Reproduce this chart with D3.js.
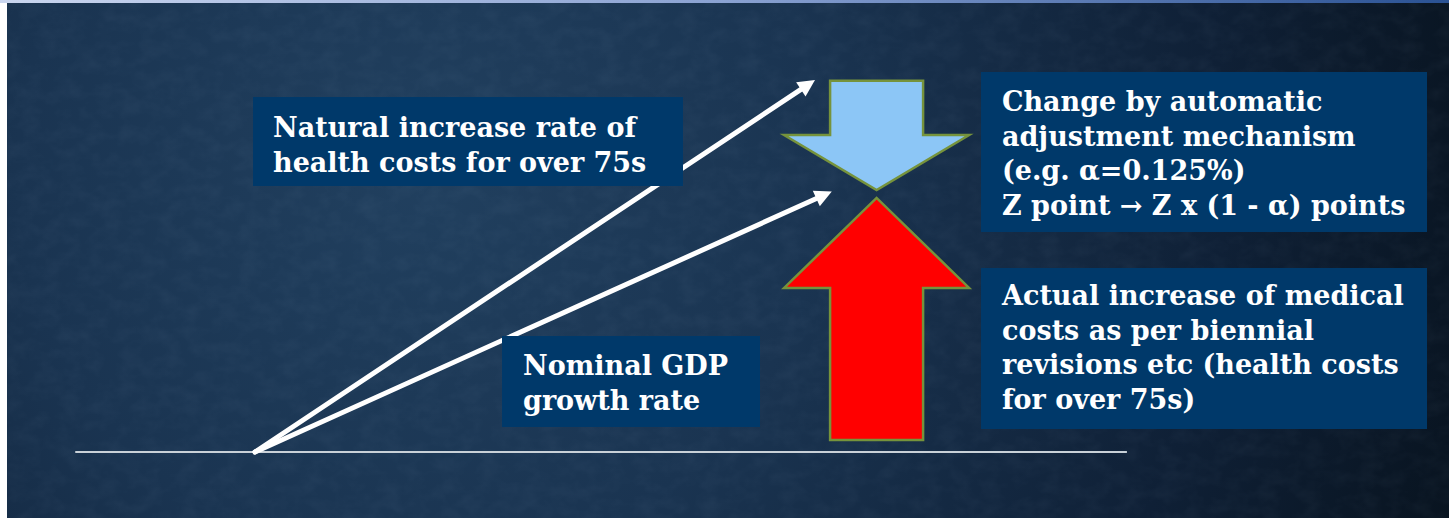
<!DOCTYPE html>
<html>
<head>
<meta charset="utf-8">
<script src="https://cdn.jsdelivr.net/npm/d3@7"></script>
<style>
  html, body { margin: 0; padding: 0; background: #ffffff; }
  svg { display: block; }
</style>
</head>
<body>
<svg id="chart" width="1449" height="518"></svg>
<script>
// Growth rates, on a 0–100 index (0 = baseline, 100 = natural increase of over-75s costs)
const growthLines = [
  { key: "natural", x0: 0, y0: 0, x1: 100, y1: 100 },
  { key: "gdp",     x0: 0, y0: 0, x1: 103, y1: 70 }
];
// Vertical block arrows: from value -> to value, at a horizontal index position
const blockArrows = [
  { key: "adjustment", from: 99.8, to: 70.4, at: 111, fill: "#8cc6f6", headLen: 55 },
  { key: "actual",     from: 3.2,  to: 68.3, at: 111, fill: "#ff0000", headLen: 90 }
];
const baselineExtent = [-32.1, 155.7];

// Text panels
const panels = [
  { key: "natural", box: [253, 97, 430, 89], text: [273, 137],
    lines: ["Natural increase rate of", "health costs for over 75s"] },
  { key: "adjust", box: [981, 72, 446, 160], text: [1002, 111],
    lines: ["Change by automatic", "adjustment mechanism", "(e.g. α=0.125%)", "Z point → Z x (1 - α) points"] },
  { key: "actual", box: [981, 268, 446, 161], text: [1002, 305],
    lines: ["Actual increase of medical", "costs as per biennial", "revisions etc (health costs", "for over 75s)"] },
  { key: "gdp", box: [502, 336, 258, 91], text: [523, 375],
    lines: ["Nominal GDP", "growth rate"] }
];

const W = 1449, H = 518;
const svg = d3.select("#chart");

const x = d3.scaleLinear().domain([0, 100]).range([255, 815]);
const y = d3.scaleLinear().domain([0, 100]).range([452, 80]);

const defs = svg.append("defs");

// Background: dark navy, lighter toward the upper left
const bg = defs.append("radialGradient").attr("id", "bgGrad")
  .attr("gradientUnits", "userSpaceOnUse")
  .attr("cx", 420).attr("cy", 170).attr("r", 1150);
bg.append("stop").attr("offset", 0).attr("stop-color", "#21405f");
bg.append("stop").attr("offset", 0.35).attr("stop-color", "#1a3451");
bg.append("stop").attr("offset", 0.7).attr("stop-color", "#0f2036");
bg.append("stop").attr("offset", 1).attr("stop-color", "#07111b");

const topBar = defs.append("linearGradient").attr("id", "topGrad");
topBar.append("stop").attr("offset", 0).attr("stop-color", "#cad6ef");
topBar.append("stop").attr("offset", 0.5).attr("stop-color", "#8aa2d2");
topBar.append("stop").attr("offset", 1).attr("stop-color", "#2a5294");

// Fine grain over the background
const grain = defs.append("filter").attr("id", "grain")
  .attr("x", 0).attr("y", 0).attr("width", "100%").attr("height", "100%");
grain.append("feTurbulence").attr("type", "fractalNoise")
  .attr("baseFrequency", "0.05 0.07").attr("numOctaves", 3).attr("seed", 7).attr("result", "n");
grain.append("feColorMatrix").attr("type", "matrix")
  .attr("values", "0 0 0 0 0.55  0 0 0 0 0.7  0 0 0 0 0.9  0 0 0 0.5 -0.18");

svg.append("rect").attr("width", W).attr("height", H).attr("fill", "#ffffff");
svg.append("rect").attr("x", 7).attr("y", 0).attr("width", W - 7).attr("height", H).attr("fill", "url(#bgGrad)");
svg.append("rect").attr("x", 7).attr("y", 0).attr("width", W - 7).attr("height", H)
  .attr("filter", "url(#grain)").attr("opacity", 0.15);
svg.append("rect").attr("x", 0).attr("y", 0).attr("width", W).attr("height", 3).attr("fill", "url(#topGrad)");

// Baseline
svg.append("line")
  .attr("x1", x(baselineExtent[0])).attr("x2", x(baselineExtent[1]))
  .attr("y1", y(0)).attr("y2", y(0))
  .attr("stroke", "#c9d1d8").attr("stroke-width", 2);

// Growth-rate arrows
const headL = 17, headHalf = 8.5;
const gl = svg.append("g").selectAll("g").data(growthLines).join("g");
gl.each(function(d) {
  const g = d3.select(this);
  const ax = x(d.x0), ay = y(d.y0), bx = x(d.x1), by = y(d.y1);
  const len = Math.hypot(bx - ax, by - ay);
  const ux = (bx - ax) / len, uy = (by - ay) / len;
  const px = -uy, py = ux;
  const hx = bx - ux * headL, hy = by - uy * headL;
  g.append("line")
    .attr("x1", ax).attr("y1", ay).attr("x2", hx + ux * 2).attr("y2", hy + uy * 2)
    .attr("stroke", "#ffffff").attr("stroke-width", 5).attr("stroke-linecap", "round");
  g.append("path")
    .attr("d", d3.line()([[bx, by], [hx + px * headHalf, hy + py * headHalf], [hx - px * headHalf, hy - py * headHalf]]) + "Z")
    .attr("fill", "#ffffff");
});

// Block arrows
const shaftHalf = 46.5, headHalfW = 92.5;
svg.append("g").selectAll("path").data(blockArrows).join("path")
  .attr("d", d => {
    const cx = x(d.at);
    const y0 = y(d.from), y1 = y(d.to);
    const dir = y1 > y0 ? 1 : -1;
    const sh = y1 - dir * d.headLen;
    return d3.line()([
      [cx - shaftHalf, y0], [cx + shaftHalf, y0], [cx + shaftHalf, sh],
      [cx + headHalfW, sh], [cx, y1], [cx - headHalfW, sh], [cx - shaftHalf, sh]
    ]) + "Z";
  })
  .attr("fill", d => d.fill)
  .attr("stroke", "#76933c").attr("stroke-width", 2.5).attr("stroke-linejoin", "miter");

// Text panels
const pg = svg.append("g").selectAll("g").data(panels).join("g");
pg.append("rect")
  .attr("x", d => d.box[0]).attr("y", d => d.box[1])
  .attr("width", d => d.box[2]).attr("height", d => d.box[3])
  .attr("fill", "#00396a");
pg.append("text")
  .attr("font-family", "'DejaVu Serif', serif")
  .attr("font-weight", "bold")
  .attr("font-size", 27)
  .attr("fill", "#ffffff")
  .selectAll("tspan").data(d => d.lines.map((t, i) => ({ t, i, p: d }))).join("tspan")
  .attr("x", d => d.p.text[0])
  .attr("y", d => d.p.text[1] + d.i * 34.6)
  .text(d => d.t);
</script>
</body>
</html>
